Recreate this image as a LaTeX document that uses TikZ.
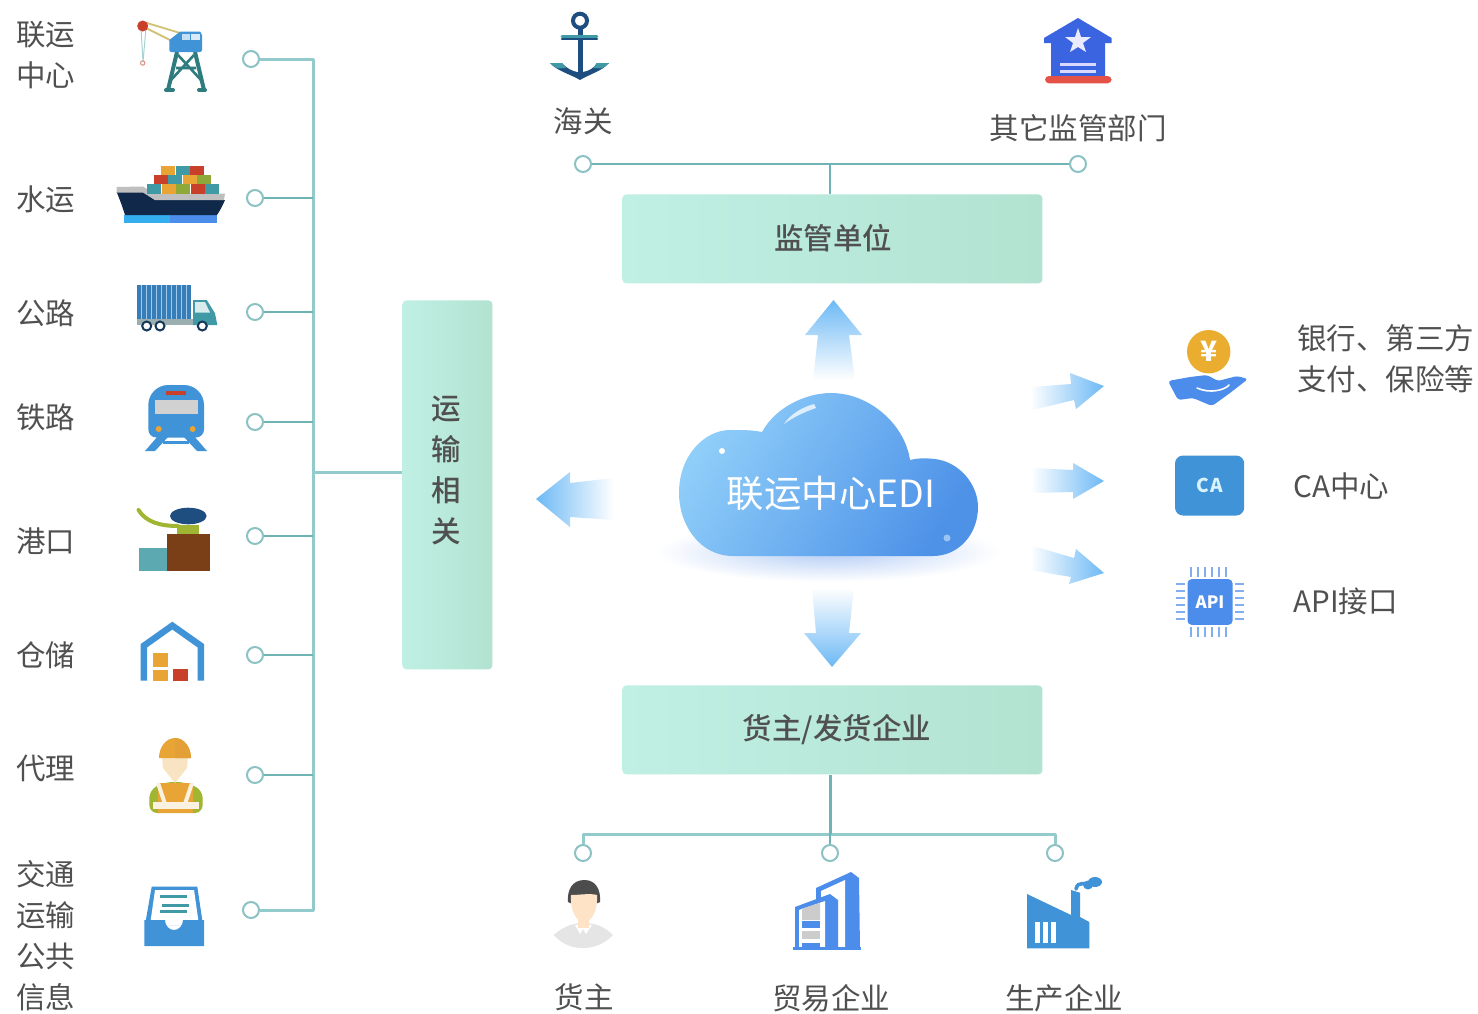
\documentclass[tikz,border=0pt]{standalone}
\usepackage{fontspec}
\setmainfont{Noto Sans CJK SC}
\newfontfamily\medfont[UprightFont={* Medium}]{Noto Sans CJK SC}
\newfontfamily\spaced[LetterSpace=10]{Noto Sans CJK SC}
\usetikzlibrary{calc}
\definecolor{txt}{HTML}{505050}
\definecolor{busc}{HTML}{93CBCC}
\definecolor{branch}{HTML}{6FB3B5}
\definecolor{boxl}{HTML}{C0F0E4}
\definecolor{boxr}{HTML}{B2E2D0}
\definecolor{arr}{HTML}{6DB9F5}
\definecolor{icblue}{HTML}{4193D8}
\definecolor{teal}{HTML}{3F9AA5}
\definecolor{deep}{HTML}{2F7C7E}
\definecolor{navy}{HTML}{1E4E80}
\definecolor{hull}{HTML}{10294A}
\definecolor{rd}{HTML}{C8402A}
\definecolor{og}{HTML}{E8A435}
\definecolor{grn}{HTML}{8FA83A}
\definecolor{blu2}{HTML}{4C8CEA}
\definecolor{royal}{HTML}{3B64E0}
\definecolor{brn}{HTML}{7A3F16}
\definecolor{cloudA}{HTML}{8FCEF9}
\definecolor{cloudB}{HTML}{4E92E8}
\definecolor{shadowc}{HTML}{B4CDF5}
\tikzset{
 lbl/.style={font=\fontsize{14.75}{20.5}\selectfont,text=txt,align=center,inner sep=0pt},
 lbll/.style={lbl,align=left,anchor=west},
 boxlbl/.style={lbl,font=\fontsize{14.75}{20.5}\selectfont\medfont},
 grbox/.style={rounded corners=2pt,left color=boxl,right color=boxr,inner sep=0pt,minimum width=210pt,minimum height=44.5pt},
 dot/.style={circle,draw=branch!80!white,fill=white,line width=1pt,minimum size=8pt,inner sep=0pt},
 bus/.style={draw=busc,line width=1.5pt},
 twig/.style={draw=branch,line width=1.2pt},
 hfade/.style={left color=white,right color=arr},
 hfadel/.style={left color=arr,right color=white},
}
\begin{document}
\begin{tikzpicture}[x=0.5pt,y=-0.5pt]
\useasboundingbox (0,0) rectangle (1478,1013);
\fill[white] (0,0) rectangle (1478,1013);

% ---- boxes
\node[grbox,anchor=north west] (top) at (622,194) {};
\node[boxlbl] (toplbl) at (833,238) {监管单位};
\node[grbox,anchor=north west] (bot) at (622,685) {};
\node[boxlbl] (botlbl) at (837,730) {货主/发货企业};
\node[grbox,anchor=north west,minimum width=45pt,minimum height=184.5pt] (trans) at (402,300) {};
\node[boxlbl] (translbl) at (446,470.5) {运\\输\\相\\关};

% ---- left bus
\coordinate (busT) at (313,59);
\coordinate (busB) at (313,910);
\coordinate (busJ) at (313,472);
\node[dot] (d1) at (251,59) {};
\node[dot] (d2) at (255,198) {};
\node[dot] (d3) at (255,312) {};
\node[dot] (d4) at (255,422) {};
\node[dot] (d5) at (255,536) {};
\node[dot] (d6) at (255,655) {};
\node[dot] (d7) at (255,775) {};
\node[dot] (d8) at (251,910) {};
\draw[bus,line join=round] (d1) -- (busT) -- (busB) -- (d8);
\foreach \n/\yy in {d2/198,d3/312,d4/422,d5/536,d6/655,d7/775}{\draw[twig] (\n) -- (313,\yy);}
\draw[bus] (busJ) -- (trans.west |- busJ);

% ---- top connector
\node[dot] (t1) at (583,164) {};
\node[dot] (t2) at (1078,164) {};
\coordinate (tj) at (830,164);
\draw[twig] (t1) -- (t2);
\draw[twig] (tj) -- (tj |- top.north);

% ---- bottom connector
\node[dot] (b1) at (583,853) {};
\node[dot] (b2) at (830,853) {};
\node[dot] (b3) at (1055,853) {};
\coordinate (bl) at (583,834);
\coordinate (br) at (1055,834);
\coordinate (bm) at (830,834);
\draw[bus,line join=round] (b1) -- (bl) -- (br) -- (b3);
\draw[twig] (b2) -- (bm);
\draw[twig,line width=1.5pt] (bm) -- (bm |- bot.south);

% ---- left labels
\node[lbl] (l1) at (46,55.5) {联运\\中心};
\node[lbl] (l2) at (46,199) {水运};
\node[lbl] (l3) at (46,313) {公路};
\node[lbl] (l4) at (46,417) {铁路};
\node[lbl] (l5) at (46,541) {港口};
\node[lbl] (l6) at (46,655) {仓储};
\node[lbl] (l7) at (46,768) {代理};
\node[lbl] (l8) at (46,935.5) {交通\\运输\\公共\\信息};
% ---- top labels
\node[lbl] (tl1) at (583,121) {海关};
\node[lbl] (tl2) at (1078,128) {其它监管部门};
% ---- bottom labels
\node[lbl] (bl1) at (584,997) {货主};
\node[lbl] (bl2) at (831,998) {贸易企业};
\node[lbl] (bl3) at (1064,998) {生产企业};
% ---- right labels
\node[lbll] (r1) at (1297,358.5) {银行、第三方\\支付、保险等};
\node[lbll] (r2) at (1293,486) {CA中心};
\node[lbll] (r3) at (1293,601) {API接口};

% ---- cloud shadow
\shade[inner color=shadowc,outer color=white] (828,552) ellipse [x radius=172,y radius=30];
% ---- cloud
\path[shading=axis,left color=cloudA,right color=cloudB,shading angle=58,draw=none]
 (733,556) .. controls (700,556) and (679,525) .. (679,493)
 .. controls (679,455) and (705,430) .. (730,430)
 .. controls (742,430) and (752,430) .. (762,432)
 .. controls (775,408) and (805,393) .. (831,393)
 .. controls (870,393) and (905,425) .. (910,460)
 .. controls (918,458) and (925,458) .. (935,459)
 .. controls (960,462) and (978,485) .. (978,507)
 .. controls (978,535) and (958,556) .. (933,556) -- cycle;
\fill[white,opacity=.75] (814,404) .. controls (800,408) and (790,415) .. (784,424) .. controls (792,418) and (804,412) .. (816,408) -- cycle;
\fill[white] (722,451) circle [radius=3];
\fill[white,opacity=.45] (947,538) circle [radius=3.5];
\node[lbl,text=white,font=\fontsize{18.7}{22}\selectfont] (edi) at (831,493) {联运中心EDI};

% ---- gradient arrows
\path[top color=arr,bottom color=white] (833.5,300) -- (862,335) -- (849,335) -- (855,380) -- (813,380) -- (818,335) -- (805,335) -- cycle;
\path[top color=white,bottom color=arr] (832,667) -- (861,633) -- (849,633) -- (854,588) -- (812,588) -- (816,633) -- (804,633) -- cycle;
\path[hfadel] (536,499) -- (570,472) -- (570,483) -- (614,478) -- (614,520) -- (570,517) -- (570,527) -- cycle;
\path[hfade] (1104,386) -- (1070,373) -- (1071,384) -- (1030,387) -- (1032,410) -- (1074,400) -- (1076,409) -- cycle;
\path[hfade] (1104,481) -- (1073,463) -- (1073,470) -- (1031,468) -- (1031,493) -- (1073,492) -- (1073,499) -- cycle;
\path[hfade] (1104,573) -- (1076,549) -- (1074,558) -- (1033,546) -- (1030,570) -- (1071,577) -- (1069,584) -- cycle;

% ---- crane
\draw[line width=.5pt,draw=branch!60!white] (141,28) -- (143,62) -- (146,28);
\draw[draw=rd!60!white,line width=.5pt] (142.7,63) circle [radius=2.2];
\draw[draw=og!50!grn!70!white,line width=.9pt] (147,23) -- (180,33) (146,28) -- (172,41);
\fill[rd] (142.7,26) circle [radius=5.5];
\draw[deep,line width=2pt] (177,52) -- (168,90) (195,52) -- (204,90);
\draw[deep,line width=1.3pt] (178,55) -- (201,80) (194,55) -- (171,80) (176,68) -- (196,68);
\draw[deep,line width=2pt,line cap=round] (166,90) -- (173,90) (199,90) -- (205,90);
\fill[icblue] (169.3,52) -- (169.3,40) -- (180,31.7) -- (200,31.7) [rounded corners=1pt] -- (202,33) -- (202,52) -- cycle;
\fill[white!70!icblue] (182,33.5) rectangle (190,40);
\fill[white!80!icblue] (191,33.5) rectangle (200,40);

% ---- ship
\fill[blu2!70!cyan] (124,215) rectangle (170,223);
\fill[blu2] (170,215) rectangle (217,223);
\fill[hull] (116.7,192) -- (143,192) -- (155,200) -- (225,200) .. controls (222,207) and (219,212) .. (217,215) -- (125,215) .. controls (122,205) and (119,198) .. (116.7,192) -- cycle;
\fill[black!25] (116.7,187) -- (143,186.5) -- (155,194) -- (225,193.5) -- (224,200) -- (155,200) -- (143,192.5) -- (116.7,192.5) -- cycle;
\foreach \xa/\ya/\c in {161/166/og,175.5/166/teal,190/166/rd,154/175/rd,168/175/teal,182.5/175/og,197/175/grn,147/184.3/teal,161.5/184.3/og,176/184.3/grn,190.5/184.3/rd,205/184.3/teal}{
  \fill[\c] (\xa,\ya) rectangle (\xa+14.3,\ya+9.2);}

% ---- truck
\fill[black!30!white!80!teal] (136.7,319) rectangle (193,325);
\fill[icblue!85!black] (136.7,285) rectangle (191,319.3);
\foreach \sx in {141,146,151,156,161,166,171,176,181,186}{\draw[line width=.5pt,draw=icblue!50!white] (\sx,285) -- (\sx,319);}
\fill[teal] (193,300) -- (206.7,300) -- (215,313.3) -- (217.3,325) -- (193,325) -- cycle;
\fill[white!80!teal] (195,302) -- (205,302) -- (210,312.5) -- (195,312.5) -- cycle;
\foreach \wx in {146.7,160,202.3}{\filldraw[fill=white,draw=navy!70!black,line width=1pt] (\wx,326) circle [radius=4.5];}

% ---- train
\fill[icblue] (145,451) -- (158,436) -- (169,436) -- (155,451) -- cycle;
\fill[icblue] (207,451) -- (194,436) -- (183,436) -- (197,451) -- cycle;
\fill[icblue] (163,441) rectangle (189,444);
\fill[icblue,rounded corners=4pt] (148.3,437.5) [rounded corners=10pt] -- (148.3,385) -- (204,385) [rounded corners=4pt] -- (204,437.5) -- cycle;
\fill[rd] (166,390.7) rectangle (186,395);
\fill[black!18] (155,400) rectangle (198.3,414.3);
\fill[og] (158.7,429) circle [radius=3];
\fill[og] (192.7,429) circle [radius=3];

% ---- port
\draw[grn!85!yellow,line width=2pt,line cap=round] (138.5,510) .. controls (146,522) and (160,526) .. (178,526);
\fill[grn!85!yellow] (177,525) rectangle (199.3,534);
\fill[navy] (188.3,516) ellipse [x radius=18.3,y radius=8.3];
\fill[teal!85!white] (139,548) rectangle (167.3,570.7);
\fill[brn] (167.3,534) rectangle (210,570.7);

% ---- warehouse
\fill[icblue] (140.7,680.7) -- (140.7,644) -- (172.3,621.7) -- (204,644) -- (204,680.7) -- (197.7,680.7) -- (197.7,647.5) -- (172.3,629.5) -- (147,647.5) -- (147,680.7) -- cycle;
\fill[og] (152.7,653.3) rectangle (168.3,666.7);
\fill[og] (152.7,670) rectangle (168.3,680.7);
\fill[rd] (172.7,669.3) rectangle (188.3,680.7);

% ---- worker
\fill[grn!85!yellow,rounded corners=4pt] (149.3,813) -- (149.3,790) -- (165,782) -- (185,782) -- (202.7,790) -- (202.7,813) -- cycle;
\fill[og] (158,783) rectangle (193,813);
\fill[white!85!og] (153,802) rectangle (199,809);
\draw[white!85!og,line width=2pt] (158,783) -- (165,804) (192,783) -- (185,804);
\fill[white!70!og] (162,755) -- (188,755) -- (187,768) -- (175,783) -- (163,768) -- cycle;
\fill[og] (159,758) arc [start angle=180,end angle=360,x radius=16,y radius=20] -- cycle;
\fill[og!88!brown] (175,738) arc [start angle=270,end angle=360,x radius=16,y radius=20] -- (175,758) -- cycle;

% ---- inbox
\fill[icblue] (151.7,886.7) -- (197.3,886.7) -- (203,925) -- (145,925) -- cycle;
\fill[white] (155,890) -- (194,890) -- (199,925) -- (150,925) -- cycle;
\fill[icblue] (144.3,920) -- (163,920) -- (165,920) arc [start angle=180,end angle=360,x radius=9,y radius=-10] -- (204,920) -- (204,946) -- (144.3,946) -- cycle;
\foreach \ya/\xa/\xb in {896.7/160/187,905/162/189,911.7/160/187}{\draw[teal,line width=1.5pt] (\xa,\ya) -- (\xb,\ya);}

% ---- anchor
\draw[navy,line width=2pt] (580,20.7) circle [radius=7];
\fill[navy] (577.5,28) rectangle (582.5,76);
\draw[teal,line width=1.3pt,line cap=round] (562,36.5) -- (597,36.5);
\draw[navy,line width=1.3pt,line cap=round] (562,39) -- (597,39);
\fill[navy] (550,63) -- (562,63) .. controls (566,68) and (572,71) .. (577,72) -- (583,72) .. controls (589,71) and (594,68) .. (597,63) -- (609,63) .. controls (602,71) and (590,74) .. (580,80) .. controls (570,74) and (557,71) .. (550,63) -- cycle;
\fill[teal] (550,63) -- (562,63) -- (566,68) -- (557,68.5) -- cycle;
\fill[teal] (609,63) -- (597,63) -- (593,68) -- (602,68.5) -- cycle;

% ---- house
\fill[royal,line join=round] (1078,18) -- (1111.6,38) -- (1111.6,43) -- (1105,43) -- (1105,76) -- (1051,76) -- (1051,43) -- (1044,43) -- (1044,38) -- cycle;
\fill[rd!60!red!80!white,rounded corners=2pt] (1045,76) rectangle (1111.6,83.3);
\fill[white!92!blue] (1078,28) -- (1081,37) -- (1091,37) -- (1083,43) -- (1086,52) -- (1078,47) -- (1070,52) -- (1073,43) -- (1065,37) -- (1075,37) -- cycle;
\fill[white!85!blue] (1060,63.3) rectangle (1096,66);
\fill[white!85!blue] (1060,70) rectangle (1096,72.7);

% ---- coin and hand
\fill[og!90!yellow] (1208.7,351.7) circle [radius=21.7];
\node[font=\fontsize{14}{14}\selectfont\bfseries,text=white,inner sep=0pt] (yen) at (1208.7,351.7) {¥};
\fill[blu2,rounded corners=1.5pt] (1168,381) -- (1190,377) -- (1207,375) -- (1218,381) -- (1237,376) -- (1248,379) -- (1230,393) -- (1212,406) -- (1193,398) -- (1178,400) -- cycle;
\draw[white,line width=.8pt,line cap=round] (1197,388) .. controls (1210,394) and (1225,390) .. (1229,385);

% ---- CA
\node[fill=icblue,rounded corners=4pt,minimum width=34.6pt,minimum height=30pt,inner sep=0pt,text=white!85!cyan,font=\fontsize{9.5}{10}\selectfont\spaced\bfseries] (ca) at (1209.6,485.5) {CA};

% ---- API
\node[fill=blu2,rounded corners=2pt,minimum width=22.5pt,minimum height=22.8pt,inner sep=0pt,text=white,font=\fontsize{8.5}{8.5}\selectfont\bfseries] (api) at (1210,602) {API};
\foreach \i in {0,...,5}{
  \draw[blu2!70!white,line width=1.1pt] (1191+\i*7,567) -- (1191+\i*7,577);
  \draw[blu2!70!white,line width=1.1pt] (1191+\i*7,627) -- (1191+\i*7,637);
  \draw[blu2!70!white,line width=1.1pt] (1176,584+\i*7) -- (1185,584+\i*7);
  \draw[blu2!70!white,line width=1.1pt] (1235,584+\i*7) -- (1244,584+\i*7);
}

% ---- man
\fill[black!10] (553.7,935) .. controls (565,925) and (575,923) .. (584,923) .. controls (593,923) and (603,925) .. (613,935) .. controls (603,945) and (593,948) .. (583,948) .. controls (573,948) and (563,945) .. (553.7,935) -- cycle;
\fill[white] (575,925) -- (592,925) -- (586,934) -- (583,929) -- (580,934) -- cycle;
\fill[orange!22!white] (578,918) rectangle (589,928);
\fill[black!70] (584.5,880) .. controls (572,880) and (567,890) .. (568,902) .. controls (571,905) and (597,905) .. (600,902) .. controls (601,890) and (596,880) .. (584.5,880) -- cycle;
\fill[orange!22!white] (571,895) .. controls (580,895) and (590,893) .. (597,895) .. controls (598,910) and (592,922) .. (584,922) .. controls (576,922) and (570,910) .. (571,895) -- cycle;

% ---- building
\fill[blu2] (816,888) -- (851,872) -- (859,878) -- (860,949) -- (816,949) -- cycle;
\fill[white] (821,891) -- (845,880) -- (845,949) -- (821,949) -- cycle;
\fill[blu2] (795,907) -- (830,894) -- (838,900) -- (838,949) -- (795,949) -- cycle;
\fill[white] (799,910) -- (825,901) -- (825,949) -- (799,949) -- cycle;
\fill[black!20] (802,908.5) -- (820,903) -- (820,920) -- (802,920) -- cycle;
\fill[blu2] (802,921) rectangle (820,928);
\fill[black!20] (802,931) rectangle (820,939);
\fill[blu2] (802,943) rectangle (820,949);
\fill[blu2] (793,947) rectangle (861,950);

% ---- factory
\fill[icblue] (1027,894) -- (1071,915) -- (1071,890) -- (1080,892.7) -- (1080,917) -- (1089.3,922) -- (1089.3,948.3) -- (1027,948.3) -- cycle;
\foreach \wx in {1035,1043,1051}{\fill[white] (\wx,921.7) rectangle (\wx+4.5,942.7);}
\draw[icblue,line width=1.8pt,line cap=round] (1076,889) .. controls (1078,880) and (1085,886) .. (1092,882);
\fill[icblue] (1095,882) ellipse [x radius=7,y radius=5];
\fill[icblue] (1088,885) ellipse [x radius=5,y radius=4.5];
\end{tikzpicture}
\end{document}
